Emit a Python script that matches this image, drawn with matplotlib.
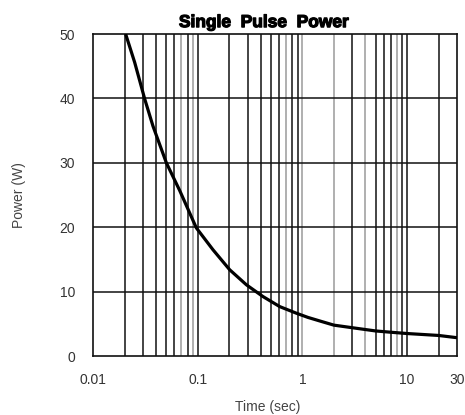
import matplotlib
matplotlib.use("Agg")
import matplotlib.pyplot as plt
import matplotlib.patheffects as pe

# data
time_sec = [0.0205, 0.025, 0.0312, 0.0374, 0.0502, 0.0673, 0.097, 0.14,
            0.202, 0.292, 0.42, 0.607, 0.877, 1.13, 1.5, 2.0, 3.0, 5.0,
            7.0, 10.0, 20.0, 30.0]
power_w = [50.0, 45.6, 39.9, 35.7, 30.0, 25.7, 19.9, 16.5,
           13.4, 11.06, 9.24, 7.68, 6.65, 6.0, 5.4, 4.8, 4.4, 3.9,
           3.7, 3.5, 3.2, 2.85]

x_ticks = [0.01, 0.1, 1, 10, 30]
x_ticklabels = ['0.01', '0.1', '1', '10', '30']
y_ticks = [0, 10, 20, 30, 40, 50]

# vertical grid lines (2..9 per decade, plus 1 and 10, 20)
v_grid = [0.02, 0.03, 0.04, 0.05, 0.06, 0.07, 0.08, 0.09, 0.1,
          0.2, 0.3, 0.4, 0.5, 0.6, 0.7, 0.8, 0.9, 1,
          2, 3, 4, 5, 6, 7, 8, 9, 10, 20]
# these ones look lighter in the scan
light = {0.07, 0.09, 0.7, 1, 2, 4, 8}

plt.rcParams['font.family'] = ['Liberation Sans', 'DejaVu Sans']

fig = plt.figure(figsize=(4.65, 4.15), dpi=100)
ax = fig.add_axes([0.2, 0.142, 0.783, 0.776])

ax.set_xscale('log')
ax.set_xlim(0.01, 30)
ax.set_ylim(0, 50)

for v in v_grid:
    ax.axvline(v, color='#9a9a9a' if v in light else '#111111', lw=1.1, zorder=1)
for h in y_ticks[1:-1]:
    ax.axhline(h, color='#111111', lw=1.1, zorder=1)

ax.plot(time_sec, power_w, color='black', lw=2.3, solid_capstyle='butt',
        solid_joinstyle='round', zorder=3)

ax.set_xticks(x_ticks)
ax.set_xticklabels(x_ticklabels)
ax.xaxis.set_minor_locator(matplotlib.ticker.NullLocator())
ax.set_yticks(y_ticks)
ax.tick_params(length=0, labelsize=10, labelcolor='#333333')
ax.tick_params(axis='x', pad=12)
ax.tick_params(axis='y', pad=13)

for s in ax.spines.values():
    s.set_color('#111111')
    s.set_linewidth(1.2)

t = ax.set_title('Single  Pulse  Power', fontsize=12.5, fontweight='bold', pad=5, x=0.47)
t.set_path_effects([pe.withStroke(linewidth=0.9, foreground='black')])
ax.set_xlabel('Time (sec)', fontsize=10, color='#444444')
ax.xaxis.set_label_coords(0.48, -0.135)
ax.set_ylabel('Power (W)', fontsize=10, color='#444444')
ax.yaxis.set_label_coords(-0.185, 0.5)

fig.savefig('out.png', dpi=100)
